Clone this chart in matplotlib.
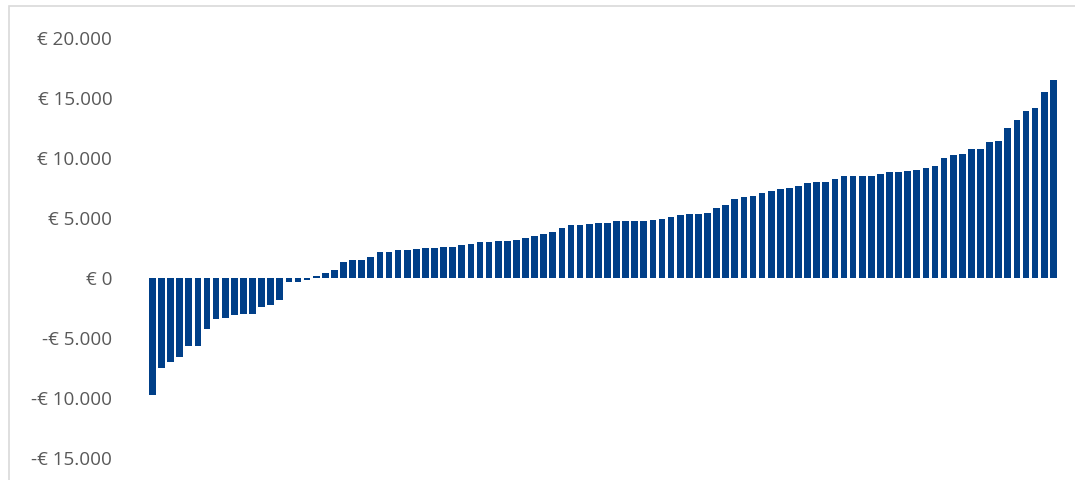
import matplotlib
matplotlib.use("Agg")
import matplotlib.pyplot as plt
from matplotlib.patches import Rectangle
from matplotlib.ticker import FuncFormatter
import numpy as np

# Net difference per household, sorted from lowest to highest (euro)
values = [
    -9750, -7500, -7000, -6600, -5650, -5650, -4250, -3450, -3350, -3050,
    -3000, -3000, -2450, -2250, -1850, -350, -300, -150, 150, 430,
    650, 1330, 1500, 1500, 1730, 2170, 2170, 2310, 2310, 2420,
    2470, 2470, 2580, 2580, 2750, 2800, 2970, 2970, 3080, 3080,
    3140, 3310, 3500, 3670, 3830, 4140, 4390, 4390, 4470, 4560,
    4560, 4720, 4720, 4720, 4720, 4810, 4890, 5080, 5220, 5330,
    5360, 5400, 5860, 6080, 6580, 6750, 6860, 7110, 7220, 7440,
    7530, 7640, 7890, 7970, 7970, 8280, 8470, 8470, 8500, 8530,
    8640, 8810, 8850, 8900, 8970, 9190, 9330, 10030, 10220, 10330,
    10750, 10750, 11360, 11390, 12470, 13170, 13920, 14140, 15500, 16470,
]
y_ticks = [-15000, -10000, -5000, 0, 5000, 10000, 15000, 20000]

BAR_COLOR = "#003F88"
LABEL_COLOR = "#595959"
FRAME_COLOR = "#D9D9D9"

W, H = 1075, 480
fig = plt.figure(figsize=(W / 100, H / 100), dpi=100)

# chart-area frame (only top and left edges fall inside the canvas)
fig.patches.append(Rectangle((9 / W, -0.1), 1.2, (H - 6) / H + 0.1,
                             transform=fig.transFigure, fill=False,
                             edgecolor=FRAME_COLOR, linewidth=1.2))

left_px, right_px = 144.2, 1061.5
top_px, bottom_px = 38, 458
ax = fig.add_axes([left_px / W, (H - bottom_px) / H,
                   (right_px - left_px) / W, (bottom_px - top_px) / H])

positions = np.arange(len(values))
ax.bar(positions, values, width=0.74, color=BAR_COLOR, linewidth=0)

ax.set_xlim(-0.9, len(values) - 1 + 0.9)
ax.set_ylim(-15000, 20000)
ax.set_yticks(y_ticks)


def euro(v, _pos):
    v = int(round(v))
    s = f"{abs(v):,}".replace(",", ".")
    return f"-€ {s}" if v < 0 else f"€ {s}"


ax.yaxis.set_major_formatter(FuncFormatter(euro))
ax.set_xticks([])
ax.tick_params(axis="y", length=0, pad=23, labelsize=13.6, labelcolor=LABEL_COLOR)
for lbl in ax.get_yticklabels():
    lbl.set_fontfamily("Open Sans")
for sp in ax.spines.values():
    sp.set_visible(False)
ax.patch.set_alpha(0)

fig.savefig("out.png", dpi=100)
